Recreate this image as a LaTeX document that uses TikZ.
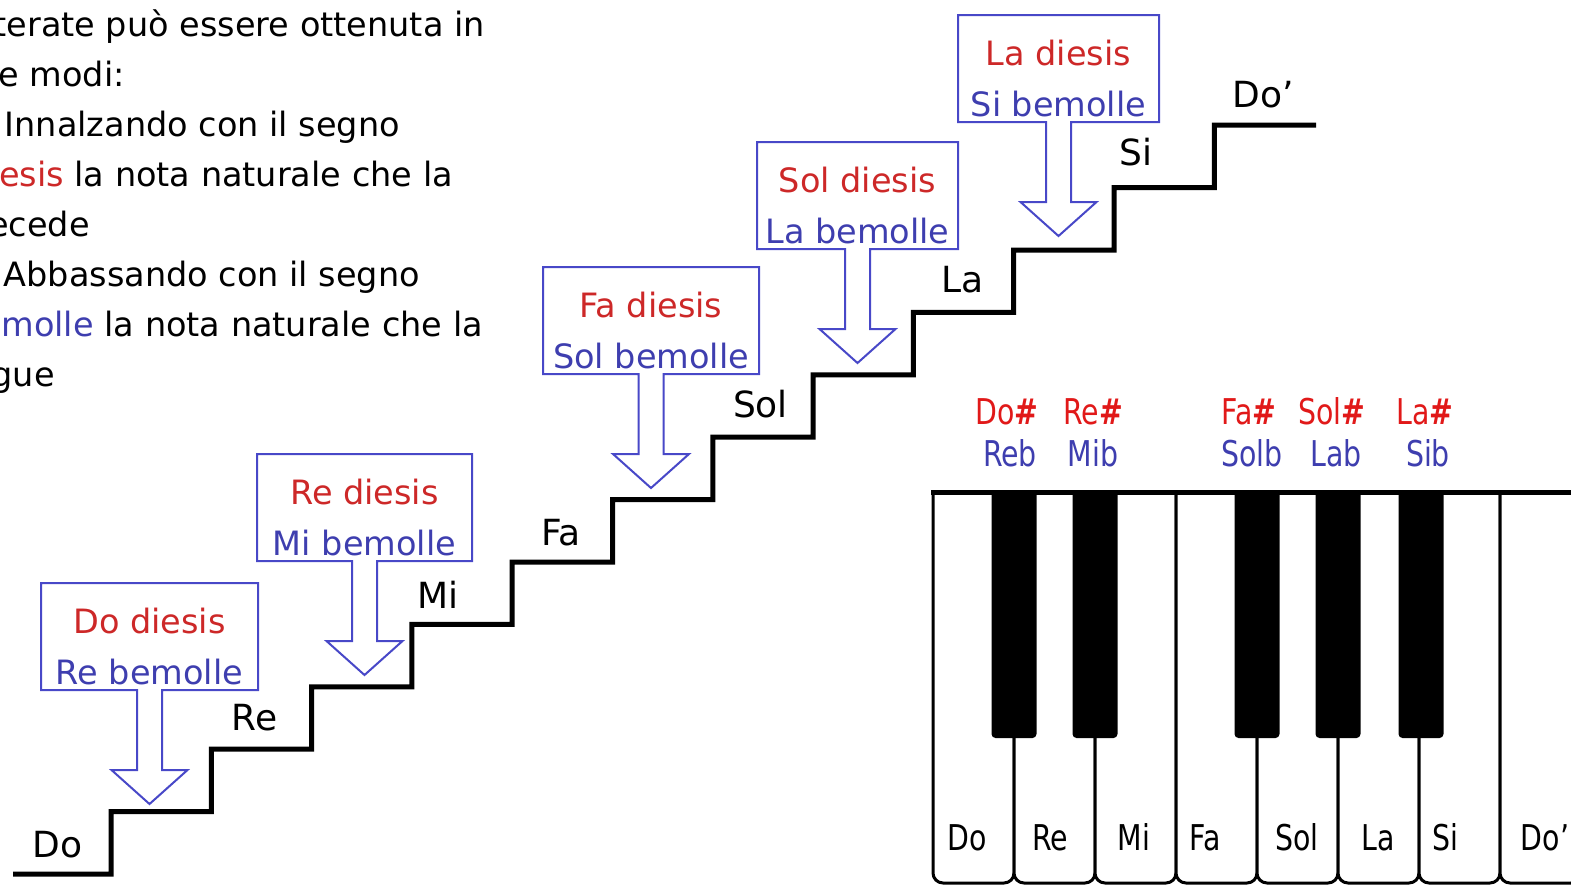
\documentclass[tikz,border=0pt]{standalone}
\usepackage{fontspec}
\setmainfont{DejaVu Sans}
\newfontfamily\keyfont{DejaVu Sans}[FakeStretch=0.8]
\definecolor{redtxt}{RGB}{205,40,40}
\definecolor{keyred}{RGB}{225,25,25}
\definecolor{bluetxt}{RGB}{62,62,175}
\definecolor{boxblue}{RGB}{72,72,200}
\begin{document}
\begin{tikzpicture}[x=1pt,y=-1pt,
  stair/.style={line width=5pt, line join=miter},
  callout/.style={draw=boxblue, line width=2pt, line join=miter},
  hitxt/.style={text=redtxt, font=\fontsize{33.5}{40}\selectfont, inner sep=0pt, anchor=base},
  lotxt/.style={text=bluetxt, font=\fontsize{33.5}{40}\selectfont, inner sep=0pt, anchor=base},
  steplbl/.style={font=\fontsize{36}{43}\selectfont, inner sep=0pt, anchor=base},
  bodytxt/.style={font=\fontsize{33.5}{40}\selectfont, inner sep=0pt, anchor=base east},
  whitekey/.style={draw=black, line width=3pt, fill=white},
  blackkey/.style={fill=black, rounded corners=4pt},
  keylbl/.style={font=\keyfont\fontsize{35.5}{42}\selectfont, inner sep=0pt, anchor=base},
  sharplbl/.style={keylbl, text=keyred},
  flatlbl/.style={keylbl, text=bluetxt}]

\useasboundingbox (0,0) rectangle (1571,887);
\fill[white] (0,0) rectangle (1571,887);

% explanatory text (its left part runs past the page edge)
\node[bodytxt] (t1) at (485,36) {terate può essere ottenuta in};
\node[bodytxt] (t2) at (125,86) {e modi:};
\node[bodytxt] (t3) at (400,136) {Innalzando con il segno};
\node[bodytxt] (t4) at (453,186) {\textcolor{redtxt}{esis} la nota naturale che la};
\node[bodytxt] (t5) at (90,236) {ecede};
\node[bodytxt] (t6) at (420,286) {Abbassando con il segno};
\node[bodytxt] (t7) at (483,336) {\textcolor{bluetxt}{molle} la nota naturale che la};
\node[bodytxt] (t8) at (55,386) {gue};

% staircase: twelve semitone steps from Do to Do'
\draw[stair] (13,874)
  foreach \k in {0,...,11} { -- ({111+100.3*\k},{874-62.4*\k}) -- ({111+100.3*\k},{874-62.4*(\k+1)}) }
  -- (1316,125.2);

\node[steplbl] (s-do)  at (57.5,857) {Do};
\node[steplbl] (s-re)  at (254.5,730) {Re};
\node[steplbl] (s-mi)  at (438,608) {Mi};
\node[steplbl] (s-fa)  at (561,545) {Fa};
\node[steplbl] (s-sol) at (760.5,417) {Sol};
\node[steplbl] (s-la)  at (962.5,292) {La};
\node[steplbl] (s-si)  at (1136,165) {Si};
\node[steplbl] (s-do2) at (1263.5,107) {Do’};

% callouts for the altered notes, each pointing down to its step
\foreach \n/\L/\T/\W/\hi/\lo in {
    c1/41/583/217/Do diesis/Re bemolle,
    c2/257/454/215/Re diesis/Mi bemolle,
    c3/543/267/216/Fa diesis/Sol bemolle,
    c4/757/142/201/Sol diesis/La bemolle,
    c5/958/15/201/La diesis/Si bemolle}{
  \pgfmathsetmacro\C{\L+\W/2}
  \draw[callout] (\L,\T) -- (\L+\W,\T) -- (\L+\W,\T+107) -- (\C+12.5,\T+107)
    -- (\C+12.5,\T+187) -- (\C+38,\T+187) -- (\C,\T+221) -- (\C-38,\T+187)
    -- (\C-12.5,\T+187) -- (\C-12.5,\T+107) -- (\L,\T+107) -- cycle;
  \node[hitxt] (\n-hi) at (\C,\T+50) {\hi};
  \node[lotxt] (\n-lo) at (\C,\T+101) {\lo};
}

% keyboard: white keys
\foreach \i in {0,...,7}{
  \draw[whitekey] ({933+81*\i},492) [rounded corners=10pt] -- ({933+81*\i},883)
    -- ({1014+81*\i},883) -- ({1014+81*\i},492);
}
\draw[line width=5pt] (931,492) -- (1575,492);
% black keys
\foreach \c in {1014,1095,1257,1338,1421}{
  \fill[blackkey] (\c-22.5,490) rectangle (\c+22.5,738);
}

\node[keylbl] (k-do)  at (967,850) {Do};
\node[keylbl] (k-re)  at (1050,850) {Re};
\node[keylbl] (k-mi)  at (1134,850) {Mi};
\node[keylbl] (k-fa)  at (1205,850) {Fa};
\node[keylbl] (k-sol) at (1297,850) {Sol};
\node[keylbl] (k-la)  at (1378,850) {La};
\node[keylbl] (k-si)  at (1445,850) {Si};
\node[keylbl] (k-do2) at (1545,850) {Do’};

\node[sharplbl] (b1-s) at (1007,424) {Do{\bfseries\#}};
\node[sharplbl] (b2-s) at (1093,424) {Re{\bfseries\#}};
\node[sharplbl] (b3-s) at (1249,424) {Fa{\bfseries\#}};
\node[sharplbl] (b4-s) at (1332,424) {Sol{\bfseries\#}};
\node[sharplbl] (b5-s) at (1425,424) {La{\bfseries\#}};
\node[flatlbl] (b1-f) at (1010,466) {Reb};
\node[flatlbl] (b2-f) at (1093,466) {Mib};
\node[flatlbl] (b3-f) at (1252,466) {Solb};
\node[flatlbl] (b4-f) at (1336,466) {Lab};
\node[flatlbl] (b5-f) at (1428,466) {Sib};
\end{tikzpicture}
\end{document}
